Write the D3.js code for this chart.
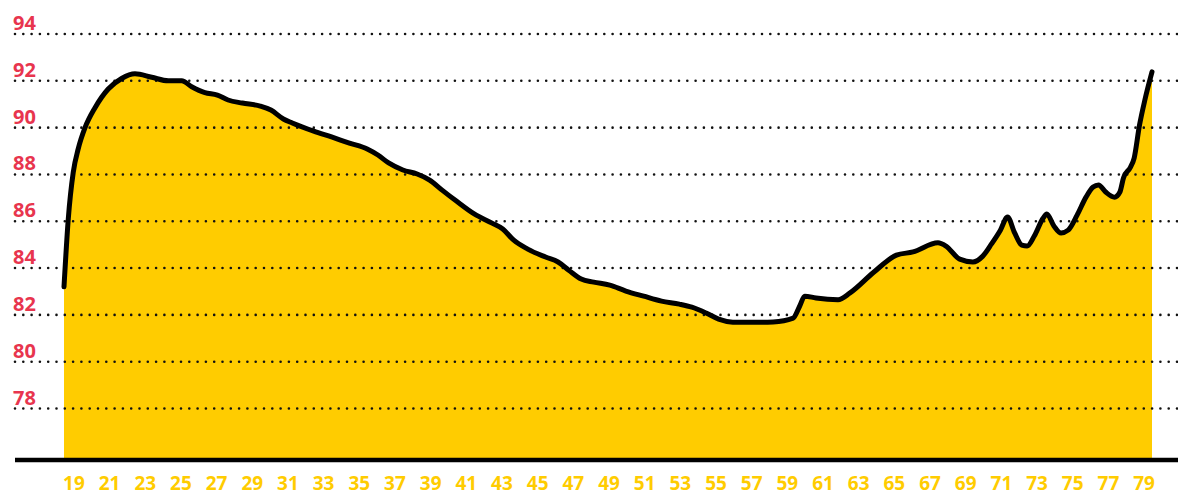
<!DOCTYPE html>
<html>
<head>
<meta charset="utf-8">
<script src="https://cdn.jsdelivr.net/npm/d3@7"></script>
<style>
  body { margin: 0; background: #fff; }
  text { font-family: "Open Sans", "Noto Sans", sans-serif; font-weight: 700; }
</style>
</head>
<body>
<div id="chart"></div>
<script>
var ages = [19.0, 19.24, 19.52, 19.8, 20.18, 20.74, 21.48, 22.23, 22.98, 23.92, 24.85, 25.6, 26.16, 26.9, 27.6, 28.2,
  29.0, 30.0, 30.6, 31.3, 31.8, 33.0, 34.0, 35.0, 36.0, 36.6, 37.2, 38.0, 38.8, 39.5, 40.2, 41.0,
  42.0, 43.0, 43.6, 44.2, 45.0, 46.0, 46.7, 47.3, 48.0, 48.7, 49.6, 50.5, 51.5, 52.5, 53.5, 54.2,
  55.0, 55.7, 56.5, 57.5, 58.76, 59.88, 60.25, 60.53, 61.16, 62.4, 63.07, 64.38, 65.67, 66.6,
  68.0, 68.45, 69.22, 69.96, 70.5, 71.0, 71.5, 71.9, 72.3, 72.7, 73.0, 73.4,
  73.9, 74.1, 74.5, 74.9, 75.3, 75.8, 76.3, 76.7, 77.0, 77.4, 77.9, 78.2, 78.4, 78.8, 79.0, 79.3,
  79.6, 80.0];
var values = [83.2, 86.1, 88.1, 89.1, 90.0, 90.85, 91.65, 92.1, 92.3, 92.15, 92.0, 92.0, 91.75, 91.5, 91.39, 91.18,
  91.05, 90.92, 90.75, 90.37, 90.2, 89.85, 89.6, 89.34, 89.09, 88.83, 88.49, 88.19, 88.02, 87.76, 87.33, 86.86,
  86.31, 85.92, 85.67, 85.2, 84.81, 84.47, 84.26, 83.91, 83.53, 83.4, 83.27, 83.02, 82.8, 82.59, 82.46, 82.33,
  82.08, 81.82, 81.69, 81.68, 81.7, 81.86, 82.38, 82.8, 82.72, 82.65, 82.94, 83.81, 84.55, 84.69,
  85.08, 84.94, 84.38, 84.26, 84.5, 85.03, 85.62, 86.18, 85.5, 84.98, 84.94, 85.37,
  86.14, 86.31, 85.8, 85.5, 85.62, 86.26, 87.03, 87.46, 87.55, 87.25, 87.03, 87.25, 87.85, 88.32, 88.7, 90.11,
  91.18, 92.38];
var yTicks = [78, 80, 82, 84, 86, 88, 90, 92, 94];
var xLabels = d3.range(19, 80, 2);

var width = 1178, height = 495;
var svg = d3.select("#chart").append("svg")
  .attr("width", width)
  .attr("height", height);

var x = d3.scaleLinear().domain([19, 80]).range([64, 1152]);
var y = d3.scaleLinear().domain([75.8, 94]).range([460, 34]);

var data = ages.map(function (a, i) { return { age: a, v: values[i] }; });

// yellow area
var area = d3.area()
  .curve(d3.curveMonotoneX)
  .x(function (d) { return x(d.age); })
  .y0(y(75.8))
  .y1(function (d) { return y(d.v); });

svg.append("path")
  .datum(data)
  .attr("d", area)
  .attr("fill", "#ffcc00");

// dotted gridlines
svg.append("g")
  .selectAll("line")
  .data(yTicks)
  .enter()
  .append("line")
  .attr("x1", 15)
  .attr("x2", width)
  .attr("y1", function (d) { return y(d); })
  .attr("y2", function (d) { return y(d); })
  .attr("stroke", "#111")
  .attr("stroke-width", 2.6)
  .attr("stroke-linecap", "round")
  .attr("stroke-dasharray", "0,8.3");

// y labels
svg.append("g")
  .selectAll("text")
  .data(yTicks)
  .enter()
  .append("text")
  .attr("x", 13)
  .attr("y", function (d) { return y(d) - 4; })
  .attr("fill", "#e8354e")
  .style("font-size", "20px")
  .text(function (d) { return d; });

// black line
var line = d3.line()
  .curve(d3.curveMonotoneX)
  .x(function (d) { return x(d.age); })
  .y(function (d) { return y(d.v); });

svg.append("path")
  .datum(data)
  .attr("d", line)
  .attr("fill", "none")
  .attr("stroke", "#000")
  .attr("stroke-width", 5)
  .attr("stroke-linecap", "round")
  .attr("stroke-linejoin", "round");

// baseline
svg.append("line")
  .attr("x1", 15)
  .attr("x2", width)
  .attr("y1", y(75.8))
  .attr("y2", y(75.8))
  .attr("stroke", "#000")
  .attr("stroke-width", 4.5);

// x labels
svg.append("g")
  .selectAll("text")
  .data(xLabels)
  .enter()
  .append("text")
  .attr("x", function (d) { return x(d + 0.5) + 1; })
  .attr("y", 490)
  .attr("text-anchor", "middle")
  .attr("fill", "#ffcc00")
  .style("font-size", "19px")
  .text(function (d) { return d; });
</script>
</body>
</html>
